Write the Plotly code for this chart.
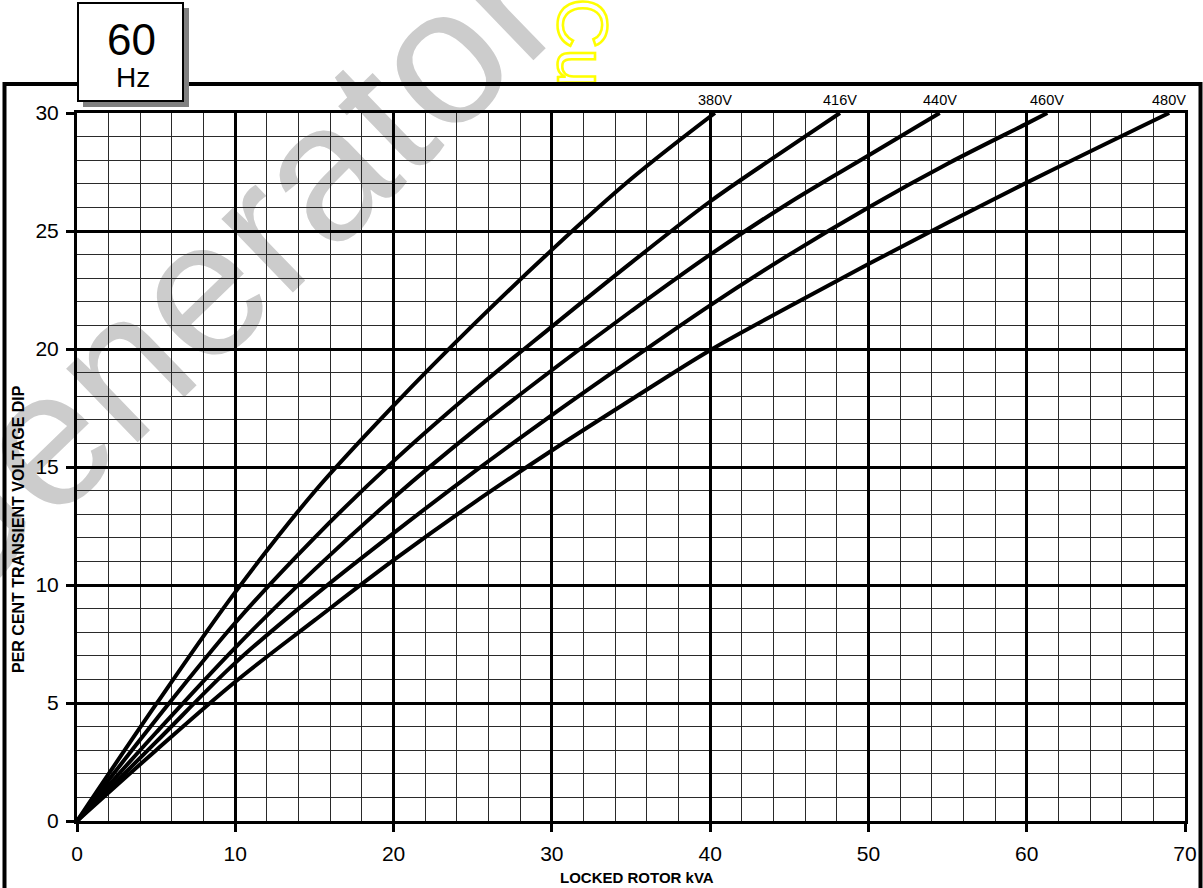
import base64
import plotly.graph_objects as go

# ---- data ----
kva_380 = [0, 5, 10, 15, 20, 25, 30, 35, 40.3]
dip_380 = [0, 4.95, 9.7, 13.95, 17.6, 21.0, 24.2, 27.2, 30.0]

kva_416 = [0, 5, 10, 15, 20, 25, 30, 35, 40, 45, 48.2]
dip_416 = [0, 4.3, 8.4, 12.0, 15.25, 18.2, 20.95, 23.65, 26.25, 28.55, 30.0]

kva_440 = [0, 5, 10, 15, 20, 25, 30, 35, 40, 45, 50, 54.5]
dip_440 = [0, 3.75, 7.35, 10.65, 13.7, 16.5, 19.1, 21.6, 24.0, 26.2, 28.2, 30.0]

kva_460 = [0, 5, 10, 15, 20, 25, 30, 35, 40, 45, 50, 55, 60, 61.3]
dip_460 = [0, 3.35, 6.7, 9.55, 12.2, 14.75, 17.2, 19.55, 21.85, 24.0, 26.0, 27.85, 29.55, 30.0]

kva_480 = [0, 5, 10, 15, 20, 25, 30, 35, 40, 45, 50, 55, 60, 65, 69]
dip_480 = [0, 3.0, 5.9, 8.5, 11.05, 13.45, 15.7, 17.85, 19.95, 21.8, 23.6, 25.35, 27.05, 28.7, 30.0]

series_names = ["380V", "416V", "440V", "460V", "480V"]
series_x = [kva_380, kva_416, kva_440, kva_460, kva_480]
series_y = [dip_380, dip_416, dip_440, dip_460, dip_480]

x_ticks = [0, 10, 20, 30, 40, 50, 60, 70]
y_ticks = [0, 5, 10, 15, 20, 25, 30]

# ---- layout geometry (pixels) ----
FW, FH = 1203, 888
L, T, W, H = 77, 113, 1108, 708
FONT = "Liberation Sans, Arial, sans-serif"


def px(x):
    return (x - L) / W


def py(y):
    return (T + H - y) / H


fig = go.Figure()
for name, xs, ys in zip(series_names, series_x, series_y):
    fig.add_trace(go.Scatter(
        x=xs, y=ys, mode="lines", name=name,
        line=dict(color="black", width=4, shape="spline", smoothing=1.0),
        hoverinfo="skip", showlegend=False,
    ))

axis_common = dict(
    showgrid=True, gridcolor="black", gridwidth=3,
    showline=True, linecolor="black", linewidth=3, mirror=True,
    zeroline=False,
    ticks="outside", ticklen=8, tickwidth=3, tickcolor="black",
    tickfont=dict(family=FONT, size=21, color="black"),
)

fig.update_xaxes(
    range=[0, 70], tickvals=x_ticks, ticktext=[str(v) for v in x_ticks],
    minor=dict(dtick=2, tick0=0, showgrid=True, gridcolor="#2a2a2a", gridwidth=1, ticks=""),
    ticklabelstandoff=4,
    **axis_common,
)
fig.update_yaxes(
    range=[0, 30], tickvals=y_ticks, ticktext=[str(v) for v in y_ticks],
    minor=dict(dtick=1, tick0=0, showgrid=True, gridcolor="#2a2a2a", gridwidth=1, ticks=""),
    ticklabelstandoff=3,
    **axis_common,
)

# voltage labels above the curve ends
annotations = []
for name, xs in zip(series_names, series_x):
    annotations.append(dict(
        x=xs[-1], y=30, xref="x", yref="y", text=name, showarrow=False,
        xanchor="center", yanchor="middle",
        yshift=13, font=dict(family=FONT, size=14.5, color="black"),
    ))

annotations += [
    dict(x=px(637), y=py(877), xref="paper", yref="paper", showarrow=False,
         xanchor="center", yanchor="middle",
         text="<b>LOCKED ROTOR kVA</b>", font=dict(family=FONT, size=15, color="black")),
    dict(x=px(18), y=py(529), xref="paper", yref="paper", showarrow=False, textangle=-90,
         xanchor="center", yanchor="middle",
         text="<b>PER CENT TRANSIENT VOLTAGE DIP</b>", font=dict(family=FONT, size=16, color="black")),
    dict(x=px(131), y=py(40), xref="paper", yref="paper", showarrow=False,
         xanchor="center", yanchor="middle",
         text="60", font=dict(family=FONT, size=44, color="black")),
    dict(x=px(133), y=py(78), xref="paper", yref="paper", showarrow=False,
         xanchor="center", yanchor="middle",
         text="Hz", font=dict(family=FONT, size=28, color="black")),
]

shapes = [
    # outer frame
    dict(type="rect", xref="paper", yref="paper",
         x0=px(4.5), x1=px(1200.5), y0=py(84), y1=py(900),
         line=dict(color="black", width=4), fillcolor="rgba(0,0,0,0)", layer="above"),
    # 60 Hz box shadow
    dict(type="rect", xref="paper", yref="paper",
         x0=px(83), x1=px(189), y0=py(8), y1=py(107),
         line=dict(width=0), fillcolor="#808080", layer="above"),
    # 60 Hz box
    dict(type="rect", xref="paper", yref="paper",
         x0=px(78), x1=px(183), y0=py(3), y1=py(101),
         line=dict(color="black", width=2), fillcolor="white", layer="above"),
]

# watermark drawn beneath the grid
svg = (
    f'<svg xmlns="http://www.w3.org/2000/svg" width="{FW}" height="{FH}" viewBox="0 0 {FW} {FH}">'
    '<defs><clipPath id="c"><rect x="0" y="0" width="1203" height="82"/></clipPath></defs>'
    '<text x="256" y="328" text-anchor="middle" font-family="Liberation Sans, Arial, sans-serif" '
    'font-size="194" fill="#cccccc" transform="rotate(-44 256 328)">Generator</text>'
    '<g clip-path="url(#c)"><text x="558" y="-2" font-family="Liberation Sans, Arial, sans-serif" '
    'font-size="70" fill="none" stroke="#ffff00" stroke-width="2.5" '
    'transform="rotate(90 558 -2)">Cu</text></g>'
    '</svg>'
)
svg_uri = "data:image/svg+xml;base64," + base64.b64encode(svg.encode("utf-8")).decode("ascii")

fig.update_layout(
    width=FW, height=FH,
    margin=dict(l=L, r=FW - L - W, t=T, b=FH - T - H, autoexpand=False),
    paper_bgcolor="white", plot_bgcolor="rgba(0,0,0,0)",
    font=dict(family=FONT, color="black"),
    annotations=annotations, shapes=shapes,
    images=[dict(source=svg_uri, xref="paper", yref="paper",
                 x=px(0), y=py(0), sizex=FW / W, sizey=FH / H,
                 xanchor="left", yanchor="top", sizing="stretch", layer="below")],
    showlegend=False,
)

fig.write_html("out.html", config={"displayModeBar": False},
               post_script="document.body.style.margin='0';")
